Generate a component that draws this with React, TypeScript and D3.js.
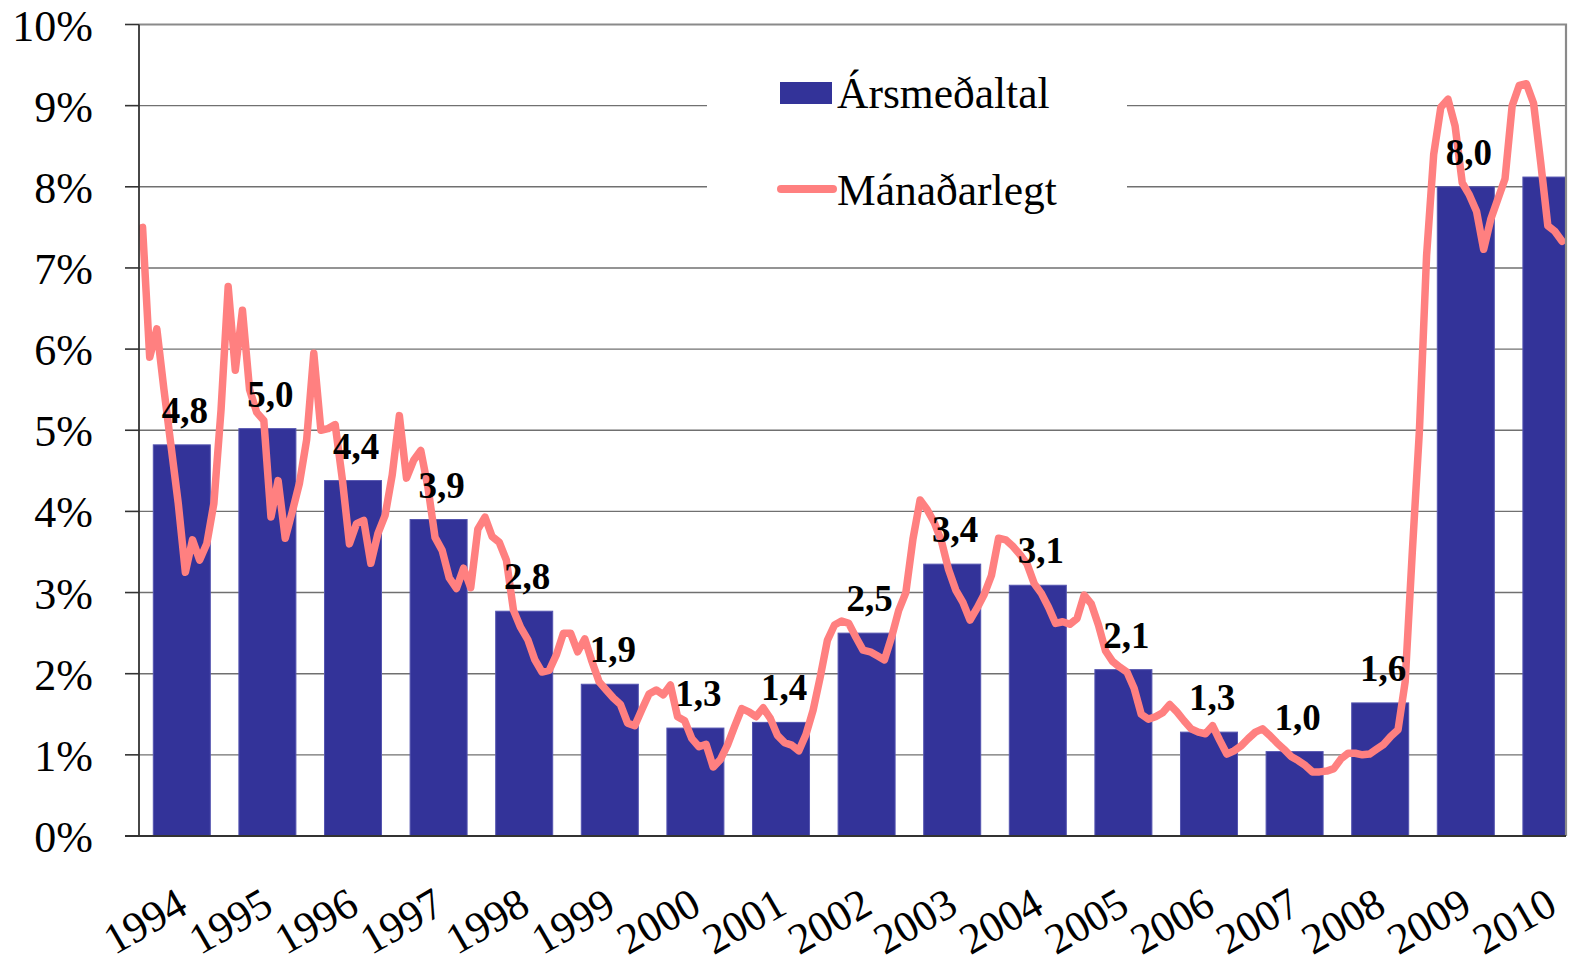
import React, { Component } from 'react';
import * as d3 from 'd3';

const years = ['1994', '1995', '1996', '1997', '1998', '1999', '2000', '2001', '2002',
    '2003', '2004', '2005', '2006', '2007', '2008', '2009', '2010'];

// annual average (bars) and the labels printed above them
const annualAverage = [4.82, 5.02, 4.38, 3.9, 2.77, 1.87, 1.33, 1.4, 2.5, 3.35, 3.09, 2.05, 1.28, 1.04, 1.64, 8.0, 8.12];
const annualLabels = ['4,8', '5,0', '4,4', '3,9', '2,8', '1,9', '1,3', '1,4', '2,5', '3,4', '3,1', '2,1', '1,3', '1,0', '1,6', '8,0', ''];

// monthly values, one array per year
const monthly1994 = [7.5, 5.9, 6.25, 5.5, 4.8, 4.1, 3.25, 3.65, 3.4, 3.6, 4.1, 5.25];
const monthly1995 = [6.77, 5.74, 6.48, 5.5, 5.22, 5.12, 3.93, 4.38, 3.67, 4.0, 4.35, 4.88];
const monthly1996 = [5.95, 5.0, 5.02, 5.07, 4.4, 3.6, 3.85, 3.89, 3.36, 3.73, 3.95, 4.45];
const monthly1997 = [5.18, 4.41, 4.63, 4.75, 4.3, 3.68, 3.52, 3.18, 3.05, 3.3, 3.06, 3.78];
const monthly1998 = [3.93, 3.69, 3.62, 3.4, 2.78, 2.57, 2.42, 2.17, 2.02, 2.04, 2.23, 2.5];
const monthly1999 = [2.5, 2.27, 2.43, 2.15, 1.9, 1.8, 1.7, 1.62, 1.39, 1.36, 1.56, 1.75];
const monthly2000 = [1.8, 1.74, 1.86, 1.47, 1.42, 1.2, 1.1, 1.13, 0.85, 0.94, 1.12, 1.35];
const monthly2001 = [1.57, 1.53, 1.47, 1.58, 1.45, 1.24, 1.15, 1.12, 1.05, 1.25, 1.55, 1.96];
const monthly2002 = [2.41, 2.6, 2.65, 2.62, 2.45, 2.29, 2.27, 2.22, 2.17, 2.45, 2.78, 3.0];
const monthly2003 = [3.66, 4.14, 4.02, 3.86, 3.63, 3.28, 3.03, 2.88, 2.66, 2.81, 2.98, 3.21];
const monthly2004 = [3.67, 3.65, 3.57, 3.47, 3.35, 3.11, 2.99, 2.82, 2.62, 2.64, 2.61, 2.68];
const monthly2005 = [2.97, 2.86, 2.6, 2.28, 2.15, 2.08, 2.02, 1.82, 1.5, 1.44, 1.47, 1.52];
const monthly2006 = [1.62, 1.53, 1.42, 1.32, 1.28, 1.26, 1.36, 1.18, 1.01, 1.05, 1.11, 1.2];
const monthly2007 = [1.28, 1.32, 1.24, 1.15, 1.07, 0.98, 0.93, 0.87, 0.79, 0.79, 0.8, 0.83];
const monthly2008 = [0.95, 1.02, 1.02, 1.0, 1.01, 1.07, 1.13, 1.23, 1.31, 1.9, 3.5, 5.0];
const monthly2009 = [7.15, 8.4, 8.98, 9.08, 8.75, 8.05, 7.9, 7.7, 7.23, 7.6, 7.85, 8.1];
const monthly2010 = [9.0, 9.25, 9.27, 9.03, 8.3, 7.52, 7.45, 7.33];

const yTicks = [0, 1, 2, 3, 4, 5, 6, 7, 8, 9, 10];
const legendLabels = ['Ársmeðaltal', 'Mánaðarlegt'];

const font = '"Liberation Serif", "Times New Roman", serif';

class App extends Component {

    componentDidMount() {
        this.initGraph();
    }

    initGraph = () => {
        const width = 1574;
        const height = 966;
        const left = 139;
        const plotRight = 1566;
        const top = 24.5;
        const bottom = 836;
        const step = 85.6;
        const full = left + step * years.length;

        const monthly = [].concat(monthly1994, monthly1995, monthly1996, monthly1997, monthly1998,
            monthly1999, monthly2000, monthly2001, monthly2002, monthly2003, monthly2004,
            monthly2005, monthly2006, monthly2007, monthly2008, monthly2009, monthly2010);

        const x = d3.scaleBand().domain(years).range([left, full]).paddingInner(0.334).paddingOuter(0.167);
        const xm = d3.scaleLinear().domain([0, years.length * 12]).range([left, full]);
        const y = d3.scaleLinear().domain([0, 10]).range([bottom, top]);

        d3.select('#chart').selectAll('*').remove();
        const svg = d3.select('#chart')
            .append('svg')
            .attr('width', width)
            .attr('height', height)
            .style('position', 'absolute')
            .style('left', 0)
            .style('top', 0)
            .style('background', '#fff')
            .style('font-family', font);

        svg.append('clipPath').attr('id', 'plot-clip')
            .append('rect')
            .attr('x', left).attr('y', 0)
            .attr('width', plotRight - left).attr('height', bottom);

        // gridlines
        svg.append('g').selectAll('line')
            .data(yTicks.filter(t => t > 0 && t < 10))
            .enter().append('line')
            .attr('x1', left).attr('x2', plotRight)
            .attr('y1', d => y(d)).attr('y2', d => y(d))
            .attr('stroke', '#707070')
            .attr('stroke-width', 1.4);

        const plot = svg.append('g').attr('clip-path', 'url(#plot-clip)');

        plot.selectAll('.bar')
            .data(annualAverage)
            .enter().append('rect')
            .attr('class', 'bar')
            .attr('x', (d, i) => x(years[i]))
            .attr('y', d => y(d))
            .attr('width', x.bandwidth())
            .attr('height', d => bottom - y(d))
            .attr('fill', '#333399')
            .attr('stroke', '#5555b0')
            .attr('stroke-width', 1);

        const line = d3.line()
            .x((d, i) => xm(i + 0.5))
            .y(d => y(d));

        plot.append('path')
            .datum(monthly)
            .attr('d', line)
            .attr('fill', 'none')
            .attr('stroke', '#FF8080')
            .attr('stroke-width', 7.5)
            .attr('stroke-linejoin', 'round')
            .attr('stroke-linecap', 'round');

        // bar value labels
        svg.append('g').selectAll('text')
            .data(annualLabels)
            .enter().append('text')
            .attr('x', (d, i) => x(years[i]) + x.bandwidth() / 2 + 3)
            .attr('y', (d, i) => y(annualAverage[i]) - 22)
            .attr('text-anchor', 'middle')
            .style('font-size', '37px')
            .style('font-weight', 'bold')
            .attr('fill', '#000')
            .text(d => d);

        // legend
        const legend = svg.append('g');
        legend.append('rect')
            .attr('x', 707).attr('y', 40)
            .attr('width', 420).attr('height', 205)
            .attr('fill', '#fff');
        legend.append('rect')
            .attr('x', 780).attr('y', 82)
            .attr('width', 52).attr('height', 22)
            .attr('fill', '#333399');
        legend.append('line')
            .attr('x1', 781).attr('x2', 833)
            .attr('y1', 189).attr('y2', 189)
            .attr('stroke', '#FF8080')
            .attr('stroke-width', 8)
            .attr('stroke-linecap', 'round');
        legend.selectAll('text')
            .data(legendLabels)
            .enter().append('text')
            .attr('x', 837)
            .attr('y', (d, i) => i === 0 ? 108 : 205)
            .style('font-size', '43.5px')
            .attr('fill', '#000')
            .text(d => d);

        // frame top/right
        svg.append('path')
            .attr('d', `M${left},${top}H${plotRight}V${bottom}`)
            .attr('fill', 'none')
            .attr('stroke', '#8a8a8a')
            .attr('stroke-width', 2.2);

        // axes
        svg.append('line')
            .attr('x1', left).attr('x2', left)
            .attr('y1', top).attr('y2', bottom)
            .attr('stroke', '#333')
            .attr('stroke-width', 1.8);
        svg.append('line')
            .attr('x1', 125).attr('x2', plotRight)
            .attr('y1', bottom).attr('y2', bottom)
            .attr('stroke', '#333')
            .attr('stroke-width', 1.8);

        const yAxis = svg.append('g');
        yAxis.selectAll('line')
            .data(yTicks)
            .enter().append('line')
            .attr('x1', 125).attr('x2', left)
            .attr('y1', d => y(d)).attr('y2', d => y(d))
            .attr('stroke', '#333')
            .attr('stroke-width', 1.6);
        yAxis.selectAll('text')
            .data(yTicks)
            .enter().append('text')
            .attr('x', 93)
            .attr('y', d => y(d) + 16)
            .attr('text-anchor', 'end')
            .style('font-size', '44px')
            .attr('fill', '#000')
            .text(d => d + '%');

        // rotated year labels
        svg.append('g').selectAll('text')
            .data(years)
            .enter().append('text')
            .attr('transform', d => 'translate(' + (x(d) + x.bandwidth() / 2 + 8) + ',912) rotate(-30)')
            .attr('text-anchor', 'end')
            .style('font-size', '43.5px')
            .attr('fill', '#000')
            .text(d => d);
    }

    render() {
        return <div id="chart" style={{ width: '1574px', height: '966px' }}></div>;
    }
}

export default App;
